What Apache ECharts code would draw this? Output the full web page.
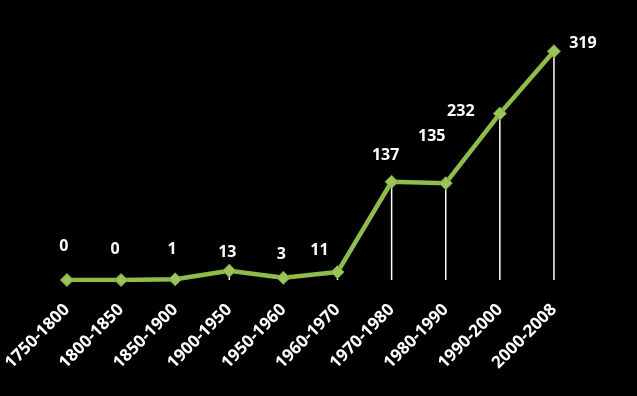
<!DOCTYPE html>
<html>
<head>
<meta charset="utf-8">
<script src="https://cdn.jsdelivr.net/npm/echarts@6/dist/echarts.min.js"></script>
<style>
html,body{margin:0;padding:0;background:#000;}
#c{width:637px;height:396px;}
</style>
</head>
<body>
<div id="c"></div>
<script>
const categories = ['1750-1800','1800-1850','1850-1900','1900-1950','1950-1960','1960-1970','1970-1980','1980-1990','1990-2000','2000-2008'];
const values = [0, 0, 1, 13, 3, 11, 137, 135, 232, 319];
// label offsets (style only), relative to each point
const labelOffsets = [[-3,-34],[-6,-31],[-3,-30],[-2,-18],[-2,-23],[-18,-22],[-6,-26],[-14,-47],[-39,-2],[29,-8]];

const chart = echarts.init(document.getElementById('c'));
chart.setOption({
  backgroundColor: '#000',
  animation: false,
  grid: {left: 39, right: 56, top: 29, bottom: 116},
  xAxis: {
    type: 'category',
    data: categories,
    boundaryGap: true,
    axisLine: {show: false},
    axisTick: {show: false},
    axisLabel: {
      color: '#fff', fontFamily: 'Open Sans', fontWeight: 'bold', fontSize: 17,
      rotate: 45, margin: 27, interval: 0
    }
  },
  yAxis: {
    type: 'value', min: 0, max: 350,
    show: false, splitLine: {show: false}
  },
  series: [
    {
      type: 'bar',
      data: values,
      barWidth: 1.5,
      itemStyle: {color: '#fff'},
      silent: true,
      z: 1
    },
    {
      type: 'line',
      data: values.map((v, i) => ({
        value: v,
        label: {offset: labelOffsets[i]}
      })),
      symbol: 'diamond',
      symbolSize: 13,
      lineStyle: {color: '#8fbc4a', width: 4.5},
      itemStyle: {color: '#9bc35a', borderColor: '#7ea63d', borderWidth: 1},
      label: {
        show: true, position: 'inside', color: '#fff',
        fontFamily: 'Open Sans', fontWeight: 'bold', fontSize: 16
      },
      z: 3
    }
  ]
});
</script>
</body>
</html>
